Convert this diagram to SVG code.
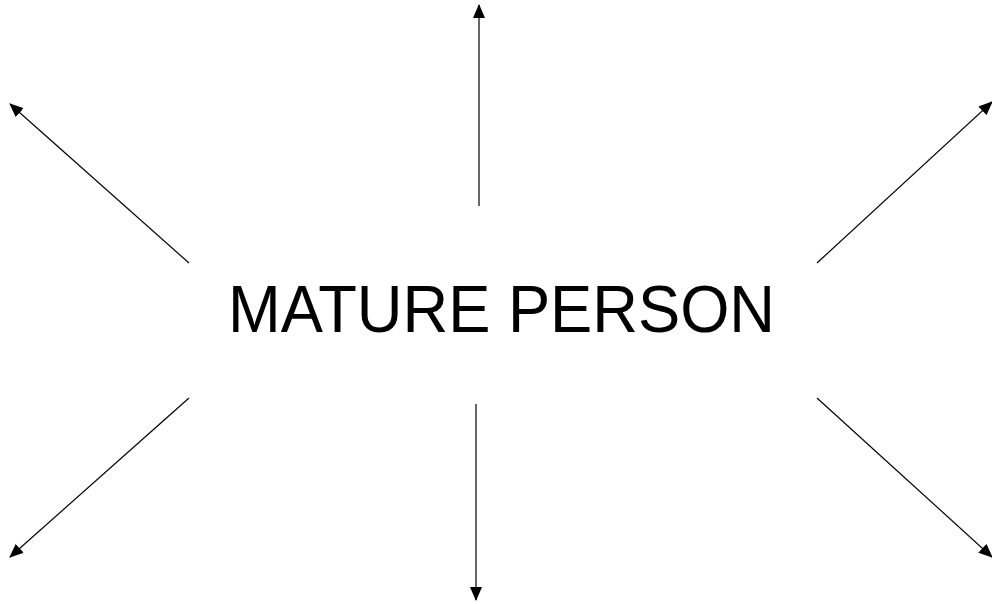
<svg xmlns="http://www.w3.org/2000/svg" width="992" height="604" viewBox="0 0 992 604">
<defs>
<marker id="ah" viewBox="0 0 14 12" refX="13" refY="6" markerWidth="14" markerHeight="12" markerUnits="userSpaceOnUse" orient="auto">
<path d="M0,0 L14,6 L0,12 Z" fill="#000"/>
</marker>
<style>
.c{stroke:#000;stroke-width:1.2;fill:none;marker-end:url(#ah)}
.t{font-family:"Liberation Sans",Arial,sans-serif;font-size:67px;fill:#000}
</style>
</defs>
<rect width="992" height="604" fill="#fff"/>
<g id="center">
<text class="t" x="228" y="332" textLength="547" lengthAdjust="spacingAndGlyphs">MATURE PERSON</text>
</g>
<g id="connectors">
<line class="c" x1="479" y1="206" x2="479" y2="5"/>
<line class="c" x1="476" y1="404" x2="476" y2="600"/>
<line class="c" x1="189" y1="263" x2="10" y2="104"/>
<line class="c" x1="817" y1="263" x2="992" y2="102"/>
<line class="c" x1="189" y1="398" x2="10" y2="557"/>
<line class="c" x1="817" y1="398" x2="992" y2="557"/>
</g>
</svg>
